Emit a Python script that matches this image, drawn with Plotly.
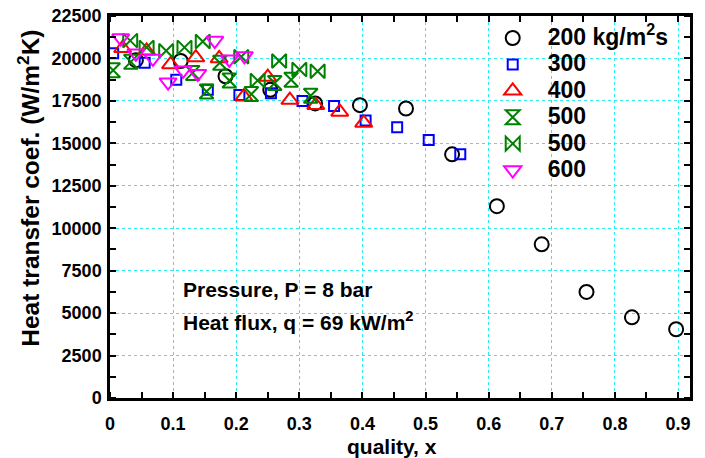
import plotly.graph_objects as go

# G = 200 kg/m2s (circles)
x200 = [0.041, 0.112, 0.183, 0.254, 0.325, 0.396, 0.469, 0.542, 0.613, 0.684, 0.755, 0.827, 0.897]
y200 = [19900, 19850, 18950, 18150, 17350, 17250, 17050, 14350, 11300, 9050, 6250, 4750, 4050]
# G = 300 (squares)
x300 = [0.005, 0.055, 0.105, 0.155, 0.205, 0.255, 0.305, 0.355, 0.405, 0.455, 0.505, 0.555]
y300 = [20300, 19750, 18750, 18150, 17850, 17950, 17500, 17200, 16350, 15950, 15200, 14350]
# G = 400 (triangle up)
x400 = [0.020, 0.058, 0.096, 0.136, 0.173, 0.212, 0.250, 0.285, 0.326, 0.364, 0.402]
y400 = [20600, 20450, 19650, 20050, 20000, 17750, 18900, 17550, 17250, 16850, 16200]
# G = 500 (hourglass)
x500a = [0.005, 0.033, 0.131, 0.153, 0.174, 0.189, 0.224, 0.261, 0.287, 0.318]
y500a = [19300, 19800, 19150, 18050, 19750, 18700, 17900, 18550, 18750, 17800]
# G = 500 (bowtie)
x500b = [0.032, 0.058, 0.089, 0.118, 0.147, 0.208, 0.234, 0.268, 0.300, 0.329]
y500b = [21050, 20650, 20450, 20650, 21000, 20100, 18700, 19850, 19350, 19250]
# G = 600 (triangle down)
x600 = [0.017, 0.041, 0.068, 0.092, 0.116, 0.139, 0.166, 0.189, 0.213]
y600 = [21200, 20300, 20000, 18600, 19300, 19100, 21050, 19950, 20150]

names = ["200 kg/m<sup>2</sup>s", "300", "400", "500", "500", "600"]

x_tickvals = [0, 0.1, 0.2, 0.3, 0.4, 0.5, 0.6, 0.7, 0.8, 0.9]
x_ticktext = ["0", "0.1", "0.2", "0.3", "0.4", "0.5", "0.6", "0.7", "0.8", "0.9"]
y_tickvals = [0, 2500, 5000, 7500, 10000, 12500, 15000, 17500, 20000, 22500]
y_ticktext = ["0", "2500", "5000", "7500", "10000", "12500", "15000", "17500", "20000", "22500"]

fig = go.Figure()
series = [
    (x200, y200, "circle-open", "black", 14),
    (x300, y300, "square-open", "blue", 10),
    (x400, y400, "triangle-up-open", "red", 15),
    (x500a, y500a, "hourglass-open", "green", 14),
    (x500b, y500b, "bowtie-open", "green", 14),
    (x600, y600, "triangle-down-open", "magenta", 15),
]
for (xs, ys, sym, col, sz), nm in zip(series, names):
    fig.add_trace(go.Scatter(
        x=xs, y=ys, mode="markers",
        name='<span style="font-size:23px">' + nm + '</span>',
        marker=dict(symbol=sym, size=sz, color=col, line=dict(color=col, width=2)),
    ))

font_fam = "Arial, Liberation Sans, sans-serif"
axis_common = dict(
    showline=True, linecolor="black", linewidth=2.5, mirror="ticks",
    showgrid=True, gridcolor="#33e6f0", griddash="dot", gridwidth=1,
    ticks="", zeroline=False, automargin=False, tickangle=0,
    tickfont=dict(family=font_fam, size=18, color="black", weight="bold"),
)

fig.update_xaxes(
    range=[0, 0.919], tickmode="array", tickvals=x_tickvals, ticktext=x_ticktext,
    ticklabelstandoff=8,
    minor=dict(tickmode="linear", dtick=0.05, tick0=0, ticks="inside", ticklen=6, tickwidth=2,
               tickcolor="black", showgrid=False),
    **axis_common,
)
fig.update_yaxes(
    range=[0, 22500], tickmode="array", tickvals=y_tickvals, ticktext=y_ticktext,
    ticklabelstandoff=2,
    minor=dict(tickmode="linear", dtick=1250, tick0=0, ticks="inside", ticklen=6, tickwidth=2,
               tickcolor="black", showgrid=False),
    **axis_common,
)

# axis titles
fig.add_annotation(x=0.487, y=-0.128, xref="paper", yref="paper", xanchor="center", yanchor="middle",
                   text="quality, x", showarrow=False,
                   font=dict(family=font_fam, size=21, color="black", weight="bold"))
fig.add_annotation(x=-0.14, y=0.55, xref="paper", yref="paper", xanchor="center", yanchor="middle",
                   text="Heat transfer coef. (W/m<sup>2</sup>K)", showarrow=False, textangle=-90,
                   font=dict(family=font_fam, size=24.5, color="black", weight="bold"))

fig.add_annotation(x=0.112, y=6420, xref="x", yref="y", xanchor="left", yanchor="middle",
                   text="Pressure, P = 8 bar", showarrow=False,
                   font=dict(family=font_fam, size=21, color="black", weight="bold"))
fig.add_annotation(x=0.112, y=4550, xref="x", yref="y", xanchor="left", yanchor="middle",
                   text="Heat flux, q = 69 kW/m<sup>2</sup>", showarrow=False,
                   font=dict(family=font_fam, size=21, color="black", weight="bold"))

fig.update_layout(
    width=705, height=458,
    margin=dict(l=110, r=15, t=16, b=60),
    plot_bgcolor="white", paper_bgcolor="white",
    legend=dict(x=0.634, y=0.99, xanchor="left", yanchor="top", itemwidth=60,
                bgcolor="rgba(0,0,0,0)", tracegroupgap=0,
                font=dict(family=font_fam, size=18, color="black", weight="bold")),
    showlegend=True,
)

fig.write_html("out.html")
